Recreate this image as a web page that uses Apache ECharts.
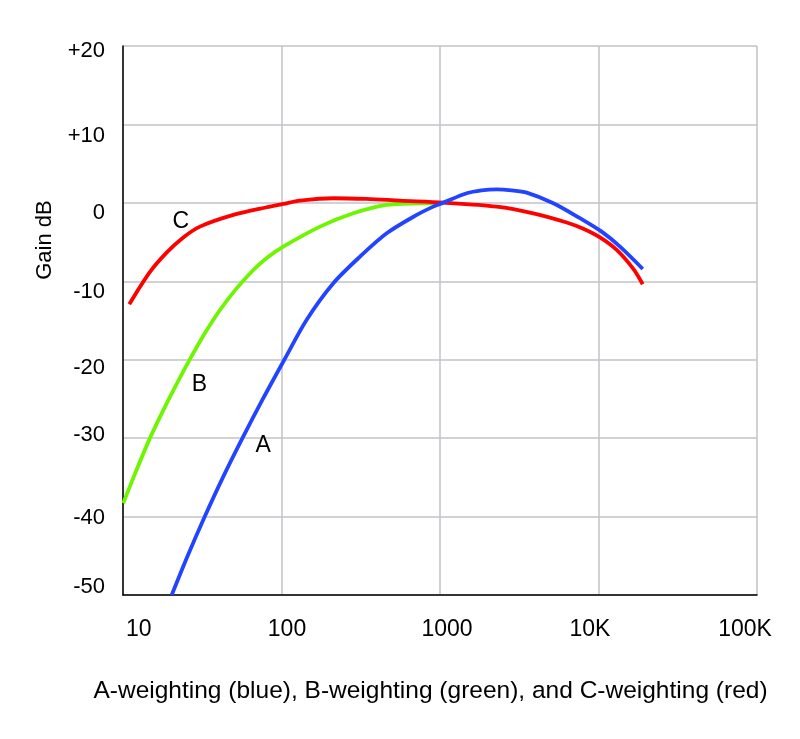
<!DOCTYPE html>
<html><head><meta charset="utf-8">
<script src="https://cdn.jsdelivr.net/npm/echarts@6/dist/echarts.min.js"></script>
<style>html,body{margin:0;padding:0;background:#fff}#c{width:800px;height:739px}</style>
</head><body><div id="c"></div>
<script>
// ---- data ----
const freqA = [20.3, 25.6, 32.8, 42.7, 56.7, 76.3, 104.2, 144.2, 212.3, 312.6, 461, 713, 907, 1050, 1473, 1828, 2278, 2831, 3524, 5188, 7644, 10470, 13670, 19020];
const gainA = [-50.0, -45.0, -40.0, -35.0, -30.0, -25.0, -20.0, -14.9, -10.25, -6.86, -3.88, -1.54, -0.48, 0.03, 1.22, 1.60, 1.73, 1.60, 1.30, -0.05, -1.96, -3.67, -5.58, -8.43];

const freqB = [10.04, 11.65, 14.8, 19.5, 26.5, 32.9, 40.9, 51.6, 66.4, 82.2, 102.6, 175, 284, 461, 748, 1045];
const gainB = [-38.3, -35.0, -30.0, -25.0, -19.9, -16.6, -13.66, -11.0, -8.56, -6.9, -5.58, -3.03, -1.33, -0.27, -0.05, -0.05];

const freqC = [10.96, 14.8, 18.9, 24.0, 30.6, 49.7, 80.7, 102.6, 130.8, 212, 345, 560, 1050, 2278, 3881, 6302, 8021, 10220, 13030, 16580, 19010];
const gainC = [-12.93, -8.81, -6.32, -4.41, -3.03, -1.54, -0.56, -0.14, 0.28, 0.59, 0.5, 0.28, 0.03, -0.48, -1.33, -2.50, -3.30, -4.41, -6.01, -8.43, -10.38];

const xTickLabels = ['10', '100', '1000', '10K', '100K'];
const yTickValues = [20, 10, 0, -10, -20, -30, -40, -50];
const yTickLabels = ['+20', '+10', '0', '-10', '-20', '-30', '-40', '-50'];

const curveNames = ['A', 'B', 'C'];
const curveLabelFreq = [76.7, 30.4, 23.2];
const curveLabelGain = [-30.97, -23.22, -2.44];

const titleText = 'A-weighting (blue), B-weighting (green), and C-weighting (red)';
const yName = 'Gain dB';

// ---- styling (offsets of hand-placed tick labels) ----
const xLabelShift = [15.7, 5.5, 7, -8.5, -12];
const yLabelShift = [4.8, 11.4, 10.4, 10.4, 7.8, -3.4, 0.9, -7.8];

const FONT = '"Liberation Sans", Arial, sans-serif';

const xRich = {};
xLabelShift.forEach((d, i) => {
  xRich['x' + i] = { fontSize: 23, fontFamily: FONT, color: '#000',
    padding: [0, Math.max(0, -2 * d), 0, Math.max(0, 2 * d)] };
});
const yRich = {};
yLabelShift.forEach((d, i) => {
  yRich['y' + i] = { fontSize: 22, fontFamily: FONT, color: '#000',
    padding: [Math.max(0, 2 * d), 0, Math.max(0, -2 * d), 0] };
});

const pairs = (xs, ys) => xs.map((x, i) => [x, ys[i]]);

const gridColor = '#c0c3c8';
const chart = echarts.init(document.getElementById('c'), null, { renderer: 'canvas' });

function letterMark(i) {
  return {
    symbol: 'circle', symbolSize: 0, silent: true,
    data: [{ coord: [curveLabelFreq[i], curveLabelGain[i]] }],
    label: { show: true, position: 'inside', formatter: curveNames[i],
      fontSize: 23, fontFamily: FONT, color: '#000' }
  };
}

chart.setOption({
  animation: false,
  backgroundColor: '#fff',
  grid: { left: 123, right: 43, top: 46, bottom: 144, containLabel: false, outerBoundsMode: 'none' },
  xAxis: {
    type: 'log', logBase: 10, min: 10, max: 100000,
    axisLine: { show: true, onZero: false, lineStyle: { color: '#000', width: 1.5 } },
    axisTick: { show: false },
    splitLine: { show: true, lineStyle: { color: gridColor, width: 1.5 } },
    axisLabel: {
      margin: 23,
      formatter: v => { const i = Math.round(Math.log10(v)) - 1; return '{x' + i + '|' + xTickLabels[i] + '}'; },
      rich: xRich
    }
  },
  yAxis: {
    type: 'value', min: -50, max: 20, interval: 10,
    axisLine: { show: true, onZero: false, lineStyle: { color: '#000', width: 1.5 } },
    axisTick: { show: false },
    splitLine: { show: true, lineStyle: { color: gridColor, width: 1.5 } },
    axisLabel: {
      margin: 18,
      formatter: v => { const i = yTickValues.indexOf(v); return '{y' + i + '|' + yTickLabels[i] + '}'; },
      rich: yRich
    }
  },
  series: [
    { name: 'B', type: 'line', data: pairs(freqB, gainB), showSymbol: false, smooth: 0.3,
      lineStyle: { color: '#6ef500', width: 3.8 }, itemStyle: { color: '#6ef500' }, markPoint: letterMark(1) },
    { name: 'C', type: 'line', data: pairs(freqC, gainC), showSymbol: false, smooth: 0.3,
      lineStyle: { color: '#ff0000', width: 3.8 }, itemStyle: { color: '#ff0000' }, markPoint: letterMark(2) },
    { name: 'A', type: 'line', data: pairs(freqA, gainA), showSymbol: false, smooth: 0.3,
      lineStyle: { color: '#2244ff', width: 3.8 }, itemStyle: { color: '#2244ff' }, markPoint: letterMark(0) }
  ],
  graphic: [
    { type: 'text', x: 45, y: 240, rotation: Math.PI / 2,
      style: { text: yName, font: '22px ' + FONT, fill: '#000', align: 'center', verticalAlign: 'middle',
        textAlign: 'center', textVerticalAlign: 'middle' } },
    { type: 'text', x: 430.5, y: 691,
      style: { text: titleText, font: '24.5px ' + FONT, fill: '#000', align: 'center', verticalAlign: 'middle',
        textAlign: 'center', textVerticalAlign: 'middle' } }
  ]
});
</script></body></html>
